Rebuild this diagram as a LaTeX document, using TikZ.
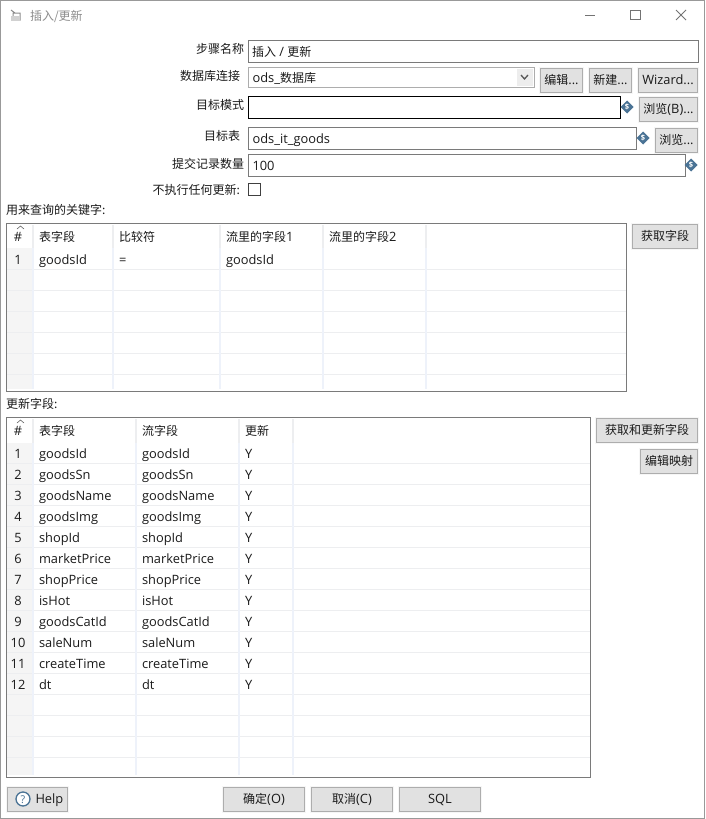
\documentclass[tikz,border=0pt]{standalone}
\usepackage{fontspec}
\setmainfont[Scale=1.07]{Open Sans}
\newfontfamily\cjfont{Noto Sans CJK SC}
\newcommand{\cj}[1]{{\cjfont #1}}
\usetikzlibrary{shapes.geometric}
\definecolor{txt}{HTML}{1A1A1A}
\definecolor{frameg}{HTML}{7A7A7A}
\definecolor{btnfill}{HTML}{E1E1E1}
\definecolor{btnedge}{HTML}{ADADAD}
\definecolor{sepblue}{HTML}{EEF2FA}
\definecolor{rowline}{HTML}{EDEEF0}
\definecolor{numcol}{HTML}{F5F5F5}
\definecolor{dollar}{HTML}{4A7395}
\tikzset{
  x=1pt,y=-1pt,
  every node/.style={inner sep=0pt,outer sep=0pt,font=\fontsize{12}{14}\selectfont,text=txt},
  lab/.style={anchor=base west},
  rlab/.style={anchor=base east},
  clab/.style={anchor=base},
  fieldbox/.style={draw=frameg,line width=1pt,fill=white},
  btnbox/.style={draw=btnedge,line width=1pt,fill=btnfill},
  btnhalo/.style={draw=btnfill!30!white,line width=1pt},
  tablebox/.style={draw=frameg,line width=1pt},
  colsep/.style={draw=sepblue,line width=2pt},
  hdrsep/.style={draw=rowline,line width=1.4pt},
  rowsep/.style={draw=rowline,line width=1pt},
  dollarmark/.style={diamond,fill=dollar,minimum width=13pt,minimum height=13pt,text=white,font=\fontsize{7}{7}\selectfont\bfseries},
}
% button: name, x0, y0, x1, y1, text
\newcommand{\uibtn}[6]{%
  \draw[btnhalo] (#2-1,#3-1) rectangle (#4+1,#5+1);
  \node[btnbox,anchor=north west,minimum width=#4-#2,minimum height=#5-#3] (#1) at (#2,#3) {};
  \node[anchor=base] (#1t) at ([yshift=-4.2pt]#1.center) {#6};
}
\begin{document}
\begin{tikzpicture}
\useasboundingbox (0,0) rectangle (705,819);
\fill[white] (0,0) rectangle (705,819);
\draw[draw=black!40,line width=1pt] (.5,.5) rectangle (704.5,818.5);

% title bar
\draw[black!45,line width=1pt] (11,10) -- (15,13) (13,13) rectangle (20,20);
\fill[black!18] (11,16) rectangle (20,21);
\node[lab,text=black!45] (title) at (30,20) {\cj{插入/更新}};
\draw[black!55,line width=.8pt] (585,15.5) -- (595,15.5);
\draw[black!55,line width=.8pt] (630.5,10.5) rectangle (640,19.5);
\draw[black!55,line width=.8pt] (676,10) -- (686,20) (686,10) -- (676,20);

% form labels
\node[rlab] (l1) at (244,53.5) {\cj{步骤名称}};
\node[rlab] (l2) at (240,80.5) {\cj{数据库连接}};
\node[rlab] (l3) at (244,109) {\cj{目标模式}};
\node[rlab] (l4) at (240,140) {\cj{目标表}};
\node[rlab] (l5) at (244,168.5) {\cj{提交记录数量}};
\node[rlab] (l6) at (240,194) {\cj{不执行任何更新:}};

% fields
\draw[fieldbox] (248.5,40.5) rectangle (698.5,62.5);
\node[lab] (v1) at (252,56) {\cj{插入} / \cj{更新}};
\draw[draw=btnedge,line width=1pt] (248.5,67.5) rectangle (534.5,87.5);
\node[lab] (v2) at (252.5,82) {ods\_\cj{数据库}};
\fill[black!7] (517,69) rectangle (533,86);
\draw[black!65,line width=1.3pt] (521,75) -- (524.5,79) -- (528,75);
\draw[draw=black,line width=1pt] (248.5,96.5) rectangle (620.5,118.5);
\draw[fieldbox] (248.5,127.5) rectangle (636.5,149.5);
\node[lab] (v4) at (252.5,143) {ods\_it\_goods};
\draw[fieldbox] (248.5,154.5) rectangle (685.5,176.5);
\node[lab] (v5) at (252.5,170) {100};
\draw[draw=black!75,line width=1pt] (248.5,183.5) rectangle (260.5,195.5);

% variable marks
\node[dollarmark] (d1) at (627,107) {\$};
\node[dollarmark] (d2) at (643,138) {\$};
\node[dollarmark] (d3) at (691,165) {\$};

% top buttons
\uibtn{b1}{540.5}{68.5}{582.5}{92}{\cj{编辑}...}
\uibtn{b2}{589.5}{68.5}{631.5}{92}{\cj{新建}...}
\uibtn{b3}{638.5}{68.5}{697.5}{92}{Wizard...}
\uibtn{b4}{639.5}{97.5}{697.5}{121.5}{\cj{浏览}(B)...}
\uibtn{b5}{655.5}{128.5}{697.5}{152.5}{\cj{浏览}...}

% key table
\node[lab] (kt) at (6,214.5) {\cj{用来查询的关键字:}};
\fill[numcol] (7,248) rectangle (32,391);
\foreach \y in {269.5,290.5,311.5,332.5,353.5,374.5}
  \draw[rowsep] (7,\y) -- (626,\y);
\foreach \x in {33,113,220,323,426} {
  \draw[hdrsep] (\x,225) -- (\x,248);
  \draw[colsep] (\x,248) -- (\x,391);
}
\fill[white] (7,389) rectangle (626,391);
\draw[tablebox] (6.5,223.5) rectangle (626.5,391.5);
\draw[black!60,line width=.6pt] (17,229) -- (20.5,226) -- (24,229);
\node[clab] (kh0) at (18,241) {\#};
\node[lab] (kh1) at (39,241.5) {\cj{表字段}};
\node[lab] (kh2) at (119,241.5) {\cj{比较符}};
\node[lab] (kh3) at (226,241.5) {\cj{流里的字段}1};
\node[lab] (kh4) at (329,241.5) {\cj{流里的字段}2};
\node[clab] (kr0) at (18,264) {1};
\node[lab] (kr1) at (39,264) {goodsId};
\node[lab] (kr2) at (119,264) {=};
\node[lab] (kr3) at (226,264) {goodsId};
\uibtn{b6}{632.5}{224.5}{697.5}{248.5}{\cj{获取字段}}

% update table
\node[lab] (ut) at (6,408.5) {\cj{更新字段:}};
\fill[numcol] (7,443) rectangle (32,776);
\foreach \n in {0,...,14}
  \draw[rowsep] (7,463.5+21*\n) -- (590,463.5+21*\n);
\foreach \x in {33,136,239,293} {
  \draw[hdrsep] (\x,419) -- (\x,443);
  \draw[colsep] (\x,443) -- (\x,776);
}
\fill[white] (7,775) rectangle (590,777);
\draw[tablebox] (6.5,417.5) rectangle (590.5,777.5);
\draw[black!60,line width=.6pt] (17,423) -- (20.5,420) -- (24,423);
\node[clab] (uh0) at (18,435) {\#};
\node[lab] (uh1) at (39,435.5) {\cj{表字段}};
\node[lab] (uh2) at (142,435.5) {\cj{流字段}};
\node[lab] (uh3) at (245,435.5) {\cj{更新}};
\foreach \n/\f [count=\i] in {1/goodsId,2/goodsSn,3/goodsName,4/goodsImg,5/shopId,6/marketPrice,7/shopPrice,8/isHot,9/goodsCatId,10/saleNum,11/createTime,12/dt} {
  \pgfmathsetmacro{\yy}{458+21*(\i-1)}
  \node[clab] (un\i) at (18,\yy) {\n};
  \node[lab] (ua\i) at (39,\yy) {\f};
  \node[lab] (ub\i) at (142,\yy) {\f};
  \node[lab] (uc\i) at (245,\yy) {Y};
}
\uibtn{b7}{596.5}{418.5}{697.5}{442.5}{\cj{获取和更新字段}}
\uibtn{b8}{640.5}{449.5}{697.5}{473.5}{\cj{编辑映射}}

% bottom buttons
\uibtn{b9}{7.5}{787.5}{67.5}{811.5}{}
\draw[draw=dollar,line width=1.3pt,fill=white] (23,799) circle (7pt);
\node[clab,font=\fontsize{10}{10}\selectfont,text=dollar] (hq) at (23,803) {?};
\node[lab] (ht) at (35.5,803.5) {Help};
\uibtn{b10}{223.5}{787.5}{304.5}{811.5}{\cj{确定}(O)}
\uibtn{b11}{311.5}{787.5}{392.5}{811.5}{\cj{取消}(C)}
\uibtn{b12}{399.5}{787.5}{480.5}{811.5}{SQL}
\end{tikzpicture}
\end{document}
